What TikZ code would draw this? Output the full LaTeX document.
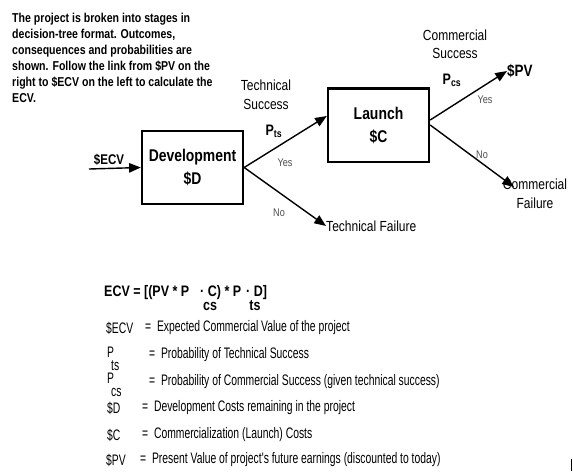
\documentclass[tikz,border=0pt]{standalone}
\usepackage{fontspec}
\setmainfont{Liberation Sans}[FakeStretch=0.82]
\newfontfamily\keyfont{Liberation Sans}[FakeStretch=0.68]
\usetikzlibrary{arrows.meta}
\tikzset{
  stage/.style={draw, line width=2pt, minimum width=3.03cm, minimum height=2.2cm,
    align=center, font=\fontsize{14.5}{19.6}\selectfont\bfseries},
  branch/.style={-{Triangle[length=10pt,width=8pt]}, line width=1.2pt},
  lbl/.style={align=center, inner sep=0pt, font=\fontsize{12.5}{16}\selectfont},
  yn/.style={inner sep=0pt, text=black!70, font=\fontsize{9.5}{11}\selectfont},
  prob/.style={inner sep=0pt, font=\fontsize{13}{15}\selectfont\bfseries},
  eqn/.style={inner sep=0pt, anchor=base west, font=\fontsize{13}{15}\selectfont\bfseries},
  defn/.style={inner sep=0pt, anchor=west, font=\keyfont\fontsize{13}{15}\selectfont},
}
\begin{document}
\begin{tikzpicture}[x=0.03cm, y=-0.03cm]
    \useasboundingbox (0,0) rectangle (573,471);

    \node[anchor=north west, inner sep=0pt, align=left,
        font=\fontsize{11}{13.6}\selectfont\bfseries] (intro) at (12,13)
        {The project is broken into stages in\\
         decision-tree format. Outcomes,\\
         consequences and probabilities are\\
         shown. Follow the link from \$PV on the\\
         right to \$ECV on the left to calculate the\\
         ECV.};

    \node[stage] (dev) at (192.5,167.5) {Development\\\$D};
    \node[stage] (launch) at (378.5,125) {Launch\\\$C};

    \node[inner sep=0pt, font=\fontsize{12}{14}\selectfont\bfseries] (ecvin) at (109,160) {\$ECV};
    \coordinate (start) at (89,169);
    \node[anchor=west, inner sep=0pt, font=\fontsize{14}{16}\selectfont\bfseries] (pv) at (507,71) {\$PV};
    \node[anchor=west, inner sep=0pt, font=\fontsize{12.5}{14}\selectfont] (tfail) at (326,226) {Technical Failure};
    \node[lbl] (cfail) at (535,193.5) {Commercial\\Failure};
    \coordinate (cftip) at (514,187);

    \node[lbl] (tsucc) at (266,95) {Technical\\Success};
    \node[lbl, font=\fontsize{12.5}{15.4}\selectfont] (csucc) at (455,44) {Commercial\\Success};
    \node[prob] (pts) at (274,131) {P\textsubscript{ts}};
    \node[prob] (pcs) at (452,80) {P\textsubscript{cs}};
    \node[yn] (yes1) at (285,163) {Yes};
    \node[yn] (no1) at (279,213) {No};
    \node[yn] (yes2) at (485,100) {Yes};
    \node[yn] (no2) at (482,155) {No};

    \draw[branch] (start) -- (dev.west);
    \draw[branch] (dev.east) -- ([yshift=0.27cm]launch.west);
    \draw[branch] (dev.east) -- (tfail.west);
    \draw[branch] ([yshift=0.15cm]launch.east) -- (pv.west);
    \draw[branch] (launch.east) -- (cftip);

    \node[eqn] (eq1) at (104,296) {ECV = [(PV * P};
    \node[eqn] (eq2) at (200,296) {· C) * P};
    \node[eqn] (eq3) at (246,296) {· D]};
    \node[prob] (eqcs) at (210,306) {cs};
    \node[prob] (eqts) at (255,306) {ts};

    \node[defn] (k1) at (106,328) {\$ECV};
    \node[defn] (d1) at (145,328) {= \ Expected Commercial Value of the project};
    \node[defn] (k2) at (107,352) {P};
    \node[defn] (k2s) at (111,366) {ts};
    \node[defn] (d2) at (149,355) {= \ Probability of Technical Success};
    \node[defn] (k3) at (107,378) {P};
    \node[defn] (k3s) at (111,392) {cs};
    \node[defn] (d3) at (149,382) {= \ Probability of Commercial Success (given technical success)};
    \node[defn] (k4) at (107,408) {\$D};
    \node[defn] (d4) at (142,408) {= \ Development Costs remaining in the project};
    \node[defn] (k5) at (107,435) {\$C};
    \node[defn] (d5) at (142,435) {= \ Commercialization (Launch) Costs};
    \node[defn] (k6) at (106,460) {\$PV};
    \node[defn] (d6) at (140,460) {= \ Present Value of project's future earnings (discounted to today)};

    \draw[line width=1.5pt] (571.5,459) -- (571.5,471);
\end{tikzpicture}
\end{document}
